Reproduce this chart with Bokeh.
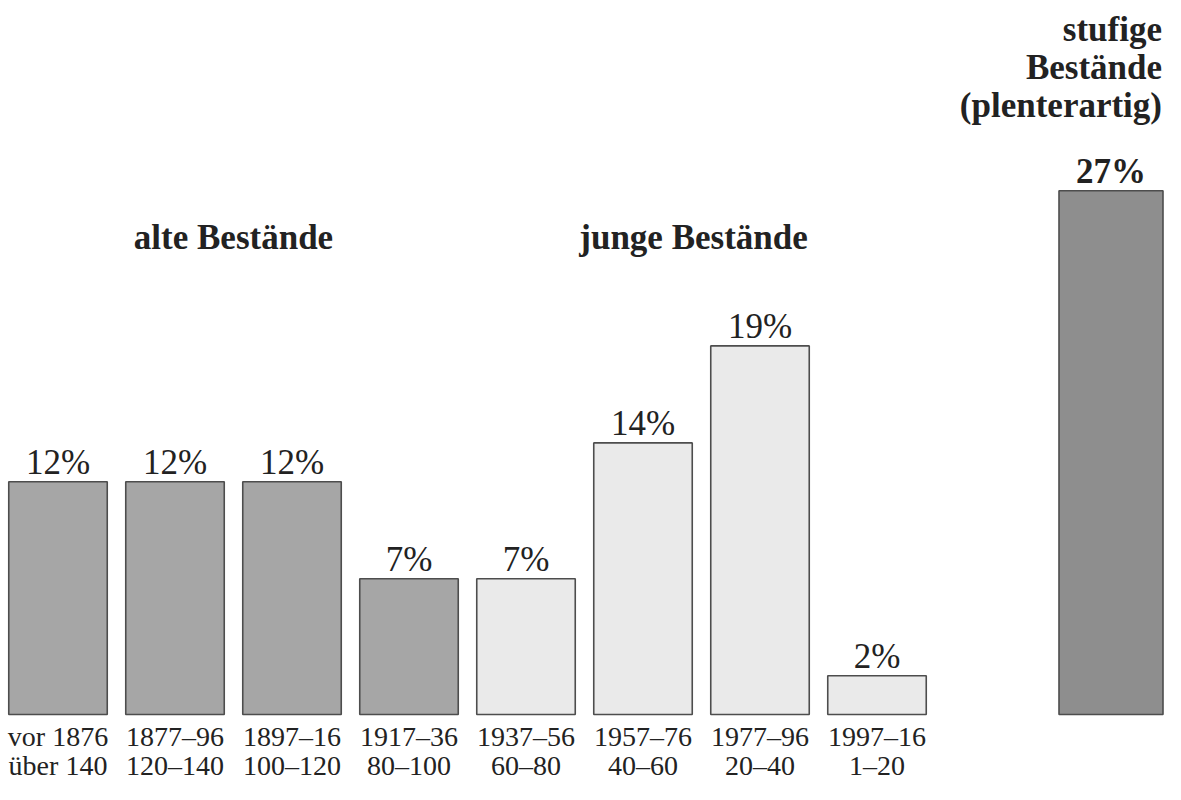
from bokeh.plotting import figure
from bokeh.models import Range1d, ColumnDataSource
from bokeh.core.properties import value
from bokeh.embed import file_html
from bokeh.resources import INLINE

# ---- data ----
periods = ["vor 1876", "1877–96", "1897–16", "1917–36", "1937–56", "1957–76", "1977–96", "1997–16"]
ages = ["über 140", "120–140", "100–120", "80–100", "60–80", "40–60", "20–40", "1–20"]
shares = [12, 12, 12, 7, 7, 14, 19, 2]
groups = ["alt", "alt", "alt", "alt", "jung", "jung", "jung", "jung"]
group_titles = {"alt": "alte Bestände", "jung": "junge Bestände"}
stufig_title = ["stufige", "Bestände", "(plenterartig)"]
stufig_share = 27

# ---- styling ----
FONT = value("Liberation Serif")
fills = {"alt": "#a6a6a6", "jung": "#eaeaea", "stufig": "#8e8e8e"}
EDGE = "#4d4d4d"
TXT = "#222222"
FIX = -11          # correction of the rendered text baseline (px)

# layout geometry (plot pixels)
STEP = 117.0       # px per category slot
FIRST = 57.5       # x of first bar centre
BASE = 714.0       # y of baseline
PXU = 19.4         # px per percent
W, H = 1165, 784

x0 = -FIRST / STEP
x1 = x0 + W / STEP
y1 = BASE / PXU
y0 = y1 - H / PXU


def vy(py):
    return (BASE - py) / PXU


p = figure(width=W, height=H, output_backend="svg", toolbar_location=None,
           x_range=Range1d(x0, x1), y_range=Range1d(y0, y1),
           x_axis_location=None, y_axis_location=None, min_border=0)
p.grid.visible = False
p.outline_line_color = None
p.background_fill_color = "white"
p.border_fill_color = "white"

idx = list(range(len(shares)))
src = ColumnDataSource(dict(
    x=idx, top=shares, per=periods, age=ages,
    fill=[fills[g] for g in groups],
    lab=[f"{v}%" for v in shares],
))

bar_w = 98.5 / STEP
p.vbar(x="x", top="top", bottom=0, width=bar_w, source=src,
       fill_color="fill", line_color=EDGE, line_width=1.6)

p.text(x="x", y="top", text="lab", source=src, y_offset=-8 + FIX,
       text_align="center", text_baseline="alphabetic",
       text_font=FONT, text_font_size="35px", text_color=TXT)
p.text(x="x", y=0, text="per", source=src, y_offset=33 + FIX,
       text_align="center", text_baseline="alphabetic",
       text_font=FONT, text_font_size="28px", text_color=TXT)
p.text(x="x", y=0, text="age", source=src, y_offset=62 + FIX,
       text_align="center", text_baseline="alphabetic",
       text_font=FONT, text_font_size="28px", text_color=TXT)

# group headers centred over their bars
for g, dx in (("alt", 0), ("jung", -8)):
    members = [i for i, gg in enumerate(groups) if gg == g]
    cx = sum(members) / len(members)
    p.text(x=[cx], y=[vy(248)], text=[group_titles[g]], x_offset=dx, y_offset=FIX,
           text_align="center", text_baseline="alphabetic",
           text_font=FONT, text_font_style="bold", text_font_size="35px",
           text_color=TXT)

# stufige Bestände bar (separated by one empty slot)
sx = len(shares) + 1
sw = 104 / STEP
p.vbar(x=[sx], top=[stufig_share], bottom=0, width=sw,
       fill_color=fills["stufig"], line_color=EDGE, line_width=1.6)
p.text(x=[sx], y=[stufig_share], text=[f"{stufig_share}%"], y_offset=-8 + FIX,
       text_align="center", text_baseline="alphabetic",
       text_font=FONT, text_font_style="bold", text_font_size="35px",
       text_color=TXT)
for k, line in enumerate(stufig_title):
    p.text(x=[sx + sw / 2], y=[vy(40 + 38 * k)], text=[line], x_offset=-1, y_offset=FIX,
           text_align="right", text_baseline="alphabetic",
           text_font=FONT, text_font_style="bold", text_font_size="35px",
           text_color=TXT)

open("out.html", "w").write(file_html(p, INLINE))
